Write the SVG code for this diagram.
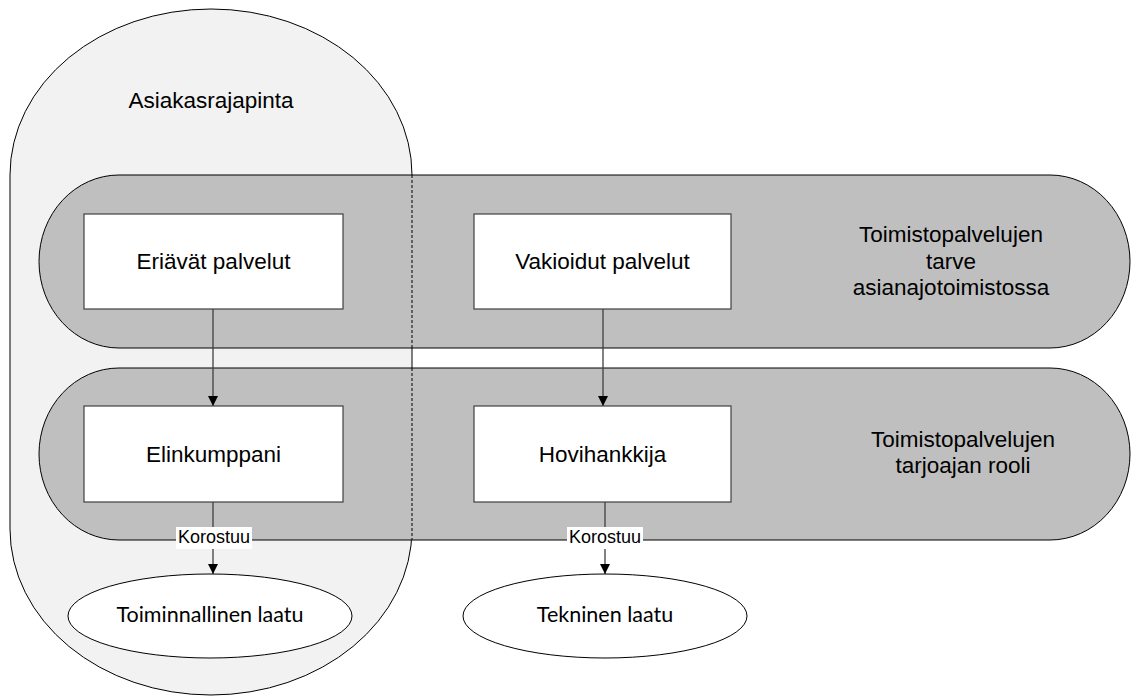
<svg xmlns="http://www.w3.org/2000/svg" width="1131" height="696" viewBox="0 0 1131 696">
<style>
.t{font-family:"Liberation Sans",Arial,sans-serif;font-size:22.5px;fill:#000;text-anchor:middle}
.c{font-family:Lato,"Liberation Sans",sans-serif;font-size:21.5px;fill:#000;text-anchor:middle}
.k{font-family:"Liberation Sans",Arial,sans-serif;font-size:18px;fill:#000;text-anchor:middle}
.box{fill:#fff;stroke:#404040;stroke-width:1.2}
.band{fill:#bfbfbf;stroke:#000;stroke-width:1}
.ell{fill:#fff;stroke:#000;stroke-width:1}
.ln{stroke:#404040;stroke-width:1.3;fill:none}
.lbl{fill:#fff}
</style>
<defs>
<marker id="ah" viewBox="0 0 10 10" refX="10" refY="5" markerWidth="10" markerHeight="10" markerUnits="userSpaceOnUse" orient="auto">
<path d="M0,0 L10,5 L0,10 Z" fill="#000"/>
</marker>
</defs>
<rect width="1131" height="696" fill="#fff"/>
<g id="asiakasrajapinta">
<path d="M10,175 A201,166 0 0 1 412,175 L412,529 A201,166 0 0 1 10,529 Z" fill="#f2f2f2" stroke="#000" stroke-width="1"/>
<text class="t" x="211" y="108">Asiakasrajapinta</text>
</g>
<g id="band-tarve">
<rect class="band" x="39" y="175" width="1091" height="173" rx="80" ry="86.5"/>
<text class="t" x="951" y="242">Toimistopalvelujen</text>
<text class="t" x="951" y="269">tarve</text>
<text class="t" x="951" y="295">asianajotoimistossa</text>
</g>
<g id="band-rooli">
<rect class="band" x="39" y="368" width="1091" height="172" rx="80" ry="86"/>
<text class="t" x="963" y="447">Toimistopalvelujen</text>
<text class="t" x="963" y="473">tarjoajan rooli</text>
</g>
<g id="boundary-dashed">
<line x1="412" y1="175" x2="412" y2="348" stroke="#000" stroke-width="1" stroke-dasharray="3,2"/>
<line x1="412" y1="368" x2="412" y2="540" stroke="#000" stroke-width="1" stroke-dasharray="3,2"/>
</g>
<g id="connectors">
<line class="ln" x1="213" y1="309" x2="213" y2="406" marker-end="url(#ah)"/>
<line class="ln" x1="603" y1="309" x2="603" y2="406" marker-end="url(#ah)"/>
<line class="ln" x1="213" y1="502" x2="213" y2="574" marker-end="url(#ah)"/>
<line class="ln" x1="605" y1="502" x2="605" y2="574" marker-end="url(#ah)"/>
<rect class="lbl" x="176" y="527" width="76" height="22"/>
<text class="k" x="214" y="543">Korostuu</text>
<rect class="lbl" x="567" y="527" width="76" height="22"/>
<text class="k" x="605" y="543">Korostuu</text>
</g>
<g id="eriavat">
<rect class="box" x="84" y="214" width="259" height="95"/>
<text class="t" x="213.5" y="269">Eriävät palvelut</text>
</g>
<g id="vakioidut">
<rect class="box" x="474" y="214" width="257" height="95"/>
<text class="t" x="602.5" y="269">Vakioidut palvelut</text>
</g>
<g id="elinkumppani">
<rect class="box" x="84" y="406" width="259" height="96"/>
<text class="t" x="213.5" y="462">Elinkumppani</text>
</g>
<g id="hovihankkija">
<rect class="box" x="474" y="406" width="257" height="96"/>
<text class="t" x="602.5" y="462">Hovihankkija</text>
</g>
<g id="toiminnallinen">
<ellipse class="ell" cx="210" cy="616" rx="142" ry="42"/>
<text class="c" x="210" y="622">Toiminnallinen laatu</text>
</g>
<g id="tekninen">
<ellipse class="ell" cx="605" cy="616" rx="142" ry="42"/>
<text class="c" x="605" y="622">Tekninen laatu</text>
</g>
</svg>
